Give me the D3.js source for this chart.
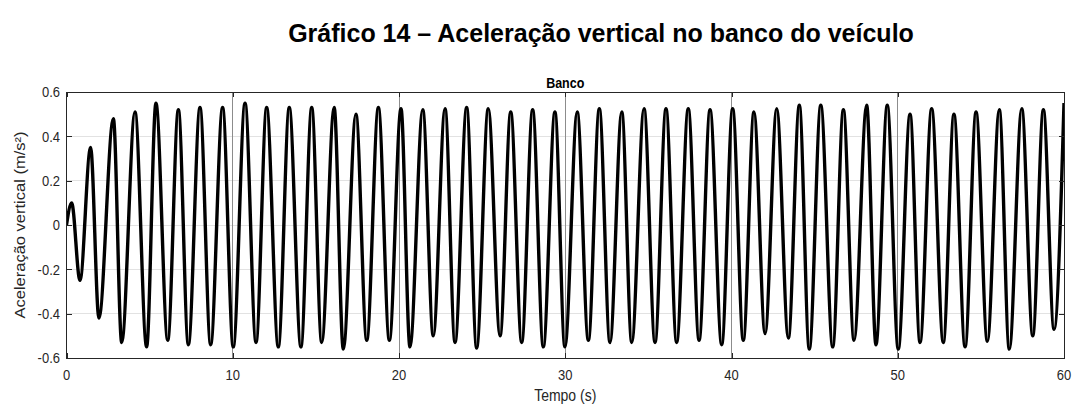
<!DOCTYPE html>
<html>
<head>
<meta charset="utf-8">
<script src="https://cdn.jsdelivr.net/npm/d3@7"></script>
<style>
  html, body { margin: 0; padding: 0; background: #fff; }
  svg { display: block; font-family: "Liberation Sans", Arial, sans-serif; }
</style>
</head>
<body>
<svg id="chart" width="1072" height="406"></svg>
<script>
// Peaks and troughs of the seat acceleration record (time in s, value in m/s²)
const sampleTime = [
  0, 0.31, 0.81, 1.45, 1.95, 2.82, 3.32, 4.12, 4.82, 5.38,
  6.09, 6.73, 7.33, 8.03, 8.67, 9.39, 10.03, 10.74, 11.40, 12.04,
  12.74, 13.40, 14.10, 14.75, 15.35, 16.10, 16.65, 17.41, 18.06, 18.76,
  19.42, 20.12, 20.66, 21.43, 22.06, 22.77, 23.37, 24.07, 24.67, 25.37,
  26.08, 26.72, 27.38, 28.04, 28.68, 29.38, 29.98, 30.72, 31.39, 32.05,
  32.69, 33.40, 34.00, 34.74, 35.40, 36.06, 36.70, 37.40, 38.05, 38.71,
  39.41, 40.07, 40.71, 41.35, 42.02, 42.72, 43.42, 44.08, 44.68, 45.37,
  46.09, 46.73, 47.37, 48.13, 48.69, 49.37, 50.03, 50.74, 51.34, 52.04,
  52.74, 53.38, 54.05, 54.71, 55.39, 56.11, 56.71, 57.46, 58.12, 58.76,
  59.40, 60.00
];
const sampleAccel = [
  0, 0.10, -0.25, 0.35, -0.42, 0.48, -0.53, 0.51, -0.55, 0.55,
  -0.52, 0.52, -0.54, 0.53, -0.54, 0.53, -0.55, 0.55, -0.53, 0.53,
  -0.55, 0.53, -0.55, 0.53, -0.53, 0.53, -0.56, 0.50, -0.52, 0.53,
  -0.52, 0.525, -0.55, 0.52, -0.50, 0.525, -0.53, 0.53, -0.555, 0.525,
  -0.50, 0.51, -0.53, 0.52, -0.55, 0.51, -0.55, 0.51, -0.52, 0.525,
  -0.53, 0.51, -0.53, 0.525, -0.53, 0.525, -0.53, 0.525, -0.52, 0.52,
  -0.54, 0.525, -0.52, 0.51, -0.49, 0.525, -0.51, 0.54, -0.56, 0.54,
  -0.55, 0.52, -0.52, 0.54, -0.54, 0.54, -0.56, 0.50, -0.53, 0.525,
  -0.53, 0.50, -0.55, 0.51, -0.525, 0.52, -0.56, 0.525, -0.50, 0.52,
  -0.47, 0.55
];
const xTicks = [0, 10, 20, 30, 40, 50, 60];
const xTickLabels = ["0", "10", "20", "30", "40", "50", "60"];
const yTicks = [-0.6, -0.4, -0.2, 0, 0.2, 0.4, 0.6];
const yTickLabels = ["-0.6", "-0.4", "-0.2", "0", "0.2", "0.4", "0.6"];

const chartTitle = "Gráfico 14 – Aceleração vertical no banco do veículo";
const panelTitle = "Banco";
const xTitle = "Tempo (s)";
const yTitle = "Aceleração vertical (m/s²)";

const svg = d3.select("#chart");
const plot = { left: 66.5, right: 1064, top: 92, bottom: 358 };
const axisColor = "#262626";
const stretch = 1.18;   // the figure's lettering is drawn taller than wide

const x = d3.scaleLinear().domain([0, 60]).range([plot.left, plot.right]);
const y = d3.scaleLinear().domain([-0.6, 0.6]).range([plot.bottom, plot.top]);

// Figure caption
svg.append("text")
  .attr("x", 601).attr("y", 42)
  .attr("text-anchor", "middle")
  .style("font-size", "25px").style("font-weight", "bold").style("fill", "#000")
  .text(chartTitle);

// Grid
const grid = svg.append("g");
grid.selectAll("line.h").data(yTicks.slice(1, -1)).join("line")
  .attr("x1", plot.left).attr("x2", plot.right)
  .attr("y1", d => y(d)).attr("y2", d => y(d))
  .attr("stroke", "#e2e2e2").attr("stroke-width", 1).attr("shape-rendering", "crispEdges");
grid.selectAll("line.v").data(xTicks.slice(1, -1)).join("line")
  .attr("x1", d => x(d)).attr("x2", d => x(d))
  .attr("y1", plot.top).attr("y2", plot.bottom)
  .attr("stroke", "#8c8c8c").attr("stroke-width", 1).attr("shape-rendering", "crispEdges");

// Signal
const pts = sampleTime.map((t, i) => [t, sampleAccel[i]]);
svg.append("clipPath").attr("id", "plot-clip").append("rect")
  .attr("x", plot.left).attr("y", plot.top - 1)
  .attr("width", plot.right - plot.left).attr("height", plot.bottom - plot.top + 2);
svg.append("path")
  .datum(pts)
  .attr("clip-path", "url(#plot-clip)")
  .attr("fill", "none")
  .attr("stroke", "#000")
  .attr("stroke-width", 3.4)
  .attr("stroke-linejoin", "round")
  .attr("d", d3.line().x(d => x(d[0])).y(d => y(d[1])).curve(d3.curveMonotoneX));

// Tick marks pointing inward on all four sides
const xAxis = svg.append("g").attr("transform", `translate(0,${plot.bottom})`)
  .call(d3.axisBottom(x).tickValues(xTicks).tickSizeInner(-5).tickSizeOuter(0).tickFormat(""));
const yAxis = svg.append("g").attr("transform", `translate(${plot.left},0)`)
  .call(d3.axisLeft(y).tickValues(yTicks).tickSizeInner(-5).tickSizeOuter(0).tickFormat(""));
const xTop = svg.append("g").attr("transform", `translate(0,${plot.top})`)
  .call(d3.axisTop(x).tickValues(xTicks).tickSizeInner(-5).tickSizeOuter(0).tickFormat(""));
const yRight = svg.append("g").attr("transform", `translate(${plot.right},0)`)
  .call(d3.axisRight(y).tickValues(yTicks).tickSizeInner(-5).tickSizeOuter(0).tickFormat(""));
[xAxis, yAxis, xTop, yRight].forEach(g => {
  g.select(".domain").remove();
  g.selectAll(".tick line").attr("stroke", axisColor).attr("shape-rendering", "crispEdges");
});

// Tick labels
svg.append("g").selectAll("text").data(xTicks).join("text")
  .attr("transform", d => `translate(${x(d)},380) scale(1,${stretch})`)
  .attr("text-anchor", "middle")
  .style("font-size", "13px").style("fill", axisColor)
  .text((d, i) => xTickLabels[i]);
svg.append("g").selectAll("text").data(yTicks).join("text")
  .attr("transform", d => `translate(${plot.left - 6.5},${y(d)}) scale(1,${stretch})`)
  .attr("text-anchor", "end")
  .attr("dy", "0.35em")
  .style("font-size", "13px").style("fill", axisColor)
  .text((d, i) => yTickLabels[i]);

// Box
svg.append("rect")
  .attr("x", plot.left).attr("y", plot.top)
  .attr("width", plot.right - plot.left).attr("height", plot.bottom - plot.top)
  .attr("fill", "none").attr("stroke", axisColor).attr("stroke-width", 1)
  .attr("shape-rendering", "crispEdges");

// Panel title and axis titles
svg.append("text")
  .attr("transform", `translate(${(plot.left + plot.right) / 2},88) scale(1,${stretch})`)
  .attr("text-anchor", "middle")
  .style("font-size", "12.5px").style("font-weight", "bold").style("fill", "#000")
  .text(panelTitle);
svg.append("text")
  .attr("transform", `translate(${(plot.left + plot.right) / 2},401) scale(1,${stretch})`)
  .attr("text-anchor", "middle")
  .style("font-size", "14px").style("fill", axisColor)
  .text(xTitle);
svg.append("text")
  .attr("transform", `translate(25,${(plot.top + plot.bottom) / 2}) rotate(-90) scale(${stretch},1)`)
  .attr("text-anchor", "middle")
  .style("font-size", "14px").style("fill", axisColor)
  .text(yTitle);
</script>
</body>
</html>
